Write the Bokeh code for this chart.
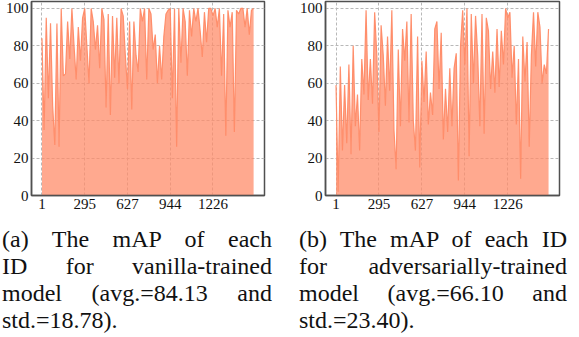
from bokeh.plotting import figure
from bokeh.layouts import row, column
from bokeh.models import Div, FixedTicker, ColumnDataSource
from bokeh.embed import file_html
from bokeh.resources import INLINE

# ---- data (x = sample position along the ID axis) ----
sample = list(range(100))
vanilla = [84, 35, 95, 52, 92, 48, 27, 92, 26, 100,
           64, 65, 93, 73, 100, 80, 62, 90, 72, 95,
           100, 80, 60, 100, 93, 78, 91, 68, 100, 94,
           47, 97, 43, 96, 63, 95, 60, 100, 96, 75,
           57, 93, 46, 93, 75, 66, 100, 93, 100, 62,
           100, 97, 78, 86, 60, 80, 62, 85, 97, 99,
           100, 52, 100, 26, 100, 71, 100, 93, 64, 99,
           85, 100, 93, 100, 88, 74, 98, 82, 100, 100,
           96, 100, 90, 100, 64, 97, 32, 99, 90, 98,
           34, 99, 97, 100, 100, 90, 100, 86, 99, 100]
adversarial = [59, 2, 69, 24, 59, 28, 70, 22, 80, 37,
               54, 24, 73, 54, 99, 51, 73, 49, 98, 75,
               34, 91, 75, 48, 85, 56, 99, 35, 14, 78,
               37, 89, 72, 93, 39, 97, 40, 24, 85, 15,
               72, 50, 77, 38, 55, 43, 89, 93, 57, 87,
               30, 57, 34, 68, 37, 68, 76, 8, 80, 99,
               70, 100, 21, 97, 60, 96, 75, 37, 97, 33,
               95, 88, 57, 77, 55, 89, 58, 88, 70, 100,
               95, 98, 63, 80, 38, 73, 9, 85, 61, 82,
               26, 75, 98, 69, 98, 90, 60, 70, 65, 89]
x_ticks = [0, 20, 40, 60, 80]
x_tick_labels = ["1", "295", "627", "944", "1226"]
y_ticks = [0, 20, 40, 60, 80, 100]

caption_a = ["(a) The mAP of each", "ID for vanilla-trained",
             "model (avg.=84.13 and", "std.=18.78)."]
caption_b = ["(b) The mAP of each ID", "for adversarially-trained",
             "model (avg.=66.10 and", "std.=23.40)."]

FILL = "#FF8C69"
LINE = "#FF8A66"
FRAME = "#505050"
SERIF = "Liberation Serif"


def make_fig(vals, width, mbr):
    src = ColumnDataSource(dict(x=sample, y=vals))
    p = figure(width=width, height=226, x_range=(-4.9, 104.1), y_range=(0, 103.7),
               output_backend="svg", toolbar_location=None,
               min_border_left=31, min_border_right=mbr,
               min_border_top=1, min_border_bottom=31)
    p.varea(x="x", y1=0, y2="y", source=src, fill_color=FILL, fill_alpha=0.75)
    p.line(x="x", y="y", source=src, line_color=LINE, line_width=1.2, line_alpha=0.95)

    p.xaxis.ticker = FixedTicker(ticks=x_ticks)
    p.xaxis.major_label_overrides = {t: l for t, l in zip(x_ticks, x_tick_labels)}
    p.yaxis.ticker = FixedTicker(ticks=y_ticks)
    for ax in (p.xaxis, p.yaxis):
        ax.major_tick_in = 0
        ax.major_tick_out = 0
        ax.minor_tick_in = 0
        ax.minor_tick_out = 0
        ax.major_label_standoff = 3
        ax.major_label_text_font = SERIF
        ax.major_label_text_font_size = "15px"
        ax.major_label_text_color = "#111111"
        ax.axis_line_color = FRAME
        ax.axis_line_width = 1.5
    p.xgrid.grid_line_color = "#b8b8b8"
    p.ygrid.grid_line_color = "#b8b8b8"
    p.xgrid.grid_line_dash = "3 2"
    p.ygrid.grid_line_dash = "3 2"
    p.outline_line_color = FRAME
    p.outline_line_width = 1.5
    p.background_fill_color = "white"
    p.border_fill_color = "white"
    return p


def caption(lines, width, ml):
    html = ("<div style=\"font-family:'Liberation Serif';font-size:24px;"
            "line-height:27px;color:#111;width:%dpx;\">" % width)
    for i, ln in enumerate(lines):
        if i < len(lines) - 1:
            html += ('<div style="text-align:justify;text-align-last:justify;'
                     'white-space:nowrap;width:%dpx;">' % width + ln + '</div>')
        else:
            html += '<div style="white-space:nowrap;">' + ln + '</div>'
    html += "</div>"
    return Div(text=html, width=width, margin=(0, 0, 0, ml))


p1 = make_fig(vanilla, 294, 30)
p2 = make_fig(adversarial, 269, 4)
d1 = caption(caption_a, 270, 2)
d2 = caption(caption_b, 268, 5)

layout = row(column(p1, d1, spacing=0), column(p2, d2, spacing=0), spacing=0)

open("out.html", "w").write(file_html(layout, INLINE))
